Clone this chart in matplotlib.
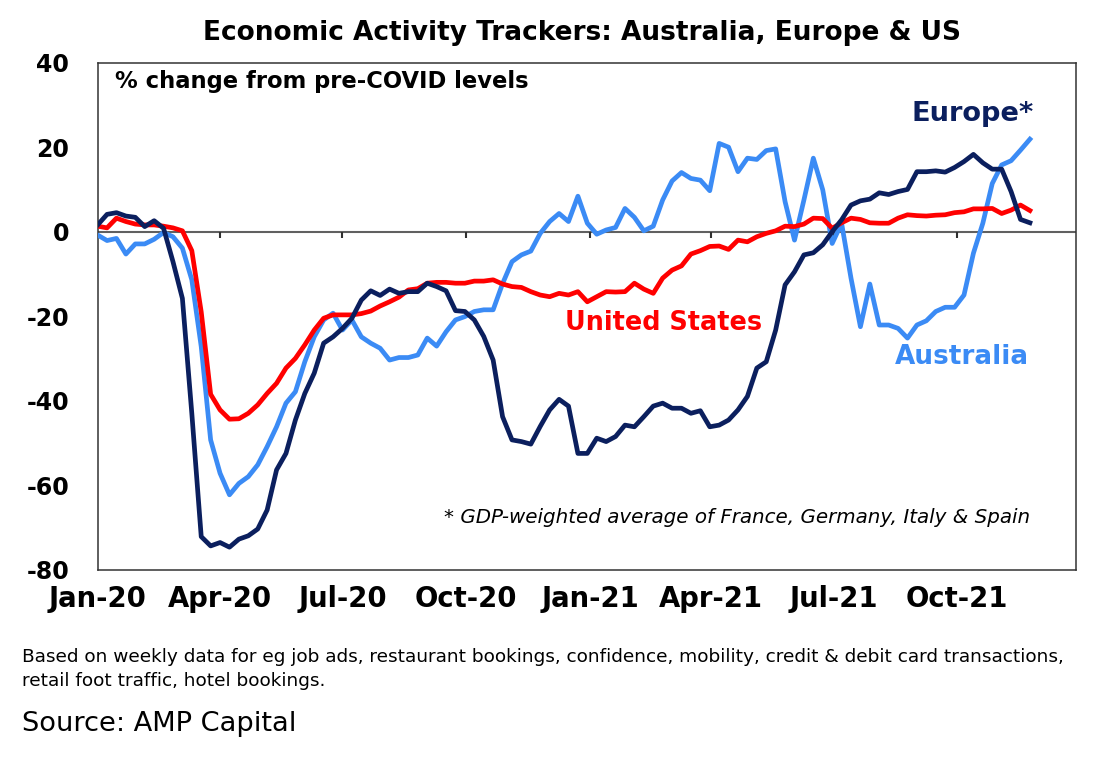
import matplotlib
matplotlib.use("Agg")
import matplotlib.pyplot as plt
import pandas as pd
import numpy as np

plt.rcParams['font.family'] = ['DejaVu Sans']

dates = pd.date_range('2020-01-01', periods=100, freq='7D')

europe = [1.6, 4.1, 4.5, 3.7, 3.4, 1.2, 2.6, 0.8, -7.1, -15.8,
          -43.0, -72.2, -74.4, -73.6, -74.7, -72.8, -72.0, -70.4, -65.9, -56.4,
          -52.5, -44.6, -38.3, -33.5, -26.4, -24.9, -22.9, -20.5, -16.2, -14.0,
          -15.1, -13.6, -14.6, -14.2, -14.2, -12.2, -13.0, -14.0, -18.7, -18.9,
          -20.9, -24.8, -30.4, -43.8, -49.3, -49.7, -50.3, -46.1, -42.2, -39.7,
          -41.3, -52.5, -52.5, -48.9, -49.7, -48.5, -45.8, -46.2, -43.8, -41.3,
          -40.6, -41.8, -41.8, -43.0, -42.4, -46.2, -45.8, -44.6, -42.2, -39.0,
          -32.3, -30.8, -23.3, -12.6, -9.5, -5.5, -5.0, -3.1, 0.0, 2.8,
          6.3, 7.3, 7.7, 9.2, 8.8, 9.5, 10.0, 14.2, 14.2, 14.4,
          14.1, 15.2, 16.6, 18.3, 16.3, 14.8, 14.8, 9.5, 2.9, 2.1]

united_states = [1.3, 0.9, 3.2, 2.4, 1.8, 1.6, 1.6, 1.3, 0.9, 0.2,
                 -4.5, -19.0, -38.5, -42.2, -44.4, -44.3, -43.0, -41.0, -38.3, -35.9,
                 -32.3, -30.0, -26.8, -23.3, -20.5, -19.7, -19.7, -19.7, -19.4, -18.8,
                 -17.6, -16.6, -15.5, -13.8, -13.5, -12.2, -12.0, -12.0, -12.2, -12.2,
                 -11.7, -11.7, -11.4, -12.4, -13.0, -13.2, -14.2, -15.0, -15.4, -14.6,
                 -15.0, -14.2, -16.6, -15.4, -14.2, -14.3, -14.2, -12.2, -13.6, -14.6,
                 -11.0, -9.1, -8.1, -5.3, -4.5, -3.5, -3.4, -4.2, -2.0, -2.4,
                 -1.2, -0.4, 0.2, 1.3, 1.2, 1.8, 3.2, 3.1, 0.8, 2.1,
                 3.2, 2.9, 2.1, 2.0, 2.0, 3.2, 4.0, 3.8, 3.7, 3.9,
                 4.0, 4.5, 4.7, 5.4, 5.4, 5.5, 4.3, 5.1, 6.3, 5.0]

australia = [-0.8, -2.1, -1.6, -5.3, -2.9, -2.9, -1.8, -0.2, -1.2, -3.9,
             -11.4, -27.2, -49.3, -57.2, -62.3, -59.6, -58.0, -55.2, -50.9, -46.2,
             -40.6, -37.9, -30.8, -24.9, -20.9, -19.3, -23.3, -20.9, -24.9, -26.4,
             -27.6, -30.4, -29.8, -29.8, -29.2, -25.2, -27.1, -23.7, -20.9, -20.1,
             -18.9, -18.5, -18.5, -12.3, -7.1, -5.5, -4.6, -0.4, 2.4, 4.3,
             2.4, 8.4, 2.0, -0.6, 0.4, 1.0, 5.5, 3.4, 0.2, 1.3,
             7.5, 12.0, 14.0, 12.6, 12.2, 9.7, 20.9, 20.0, 14.2, 17.4,
             17.1, 19.2, 19.6, 7.1, -2.0, 7.5, 17.4, 9.9, -2.8, 2.0,
             -11.0, -22.5, -12.4, -22.1, -22.1, -22.9, -25.2, -22.1, -21.1, -18.9,
             -17.9, -17.9, -15.0, -5.1, 2.0, 11.4, 15.8, 16.8, 19.3, 21.9]

tick_dates = pd.to_datetime(['2020-01-01', '2020-04-01', '2020-07-01', '2020-10-01',
                             '2021-01-01', '2021-04-01', '2021-07-01', '2021-10-01'])
tick_labels = ['Jan-20', 'Apr-20', 'Jul-20', 'Oct-20', 'Jan-21', 'Apr-21', 'Jul-21', 'Oct-21']
y_ticks = [-80, -60, -40, -20, 0, 20, 40]
y_labels = ['-80', '-60', '-40', '-20', '0', '20', '40']

c_eu = '#0b1f5e'
c_us = '#ff0000'
c_au = '#3b8bf5'

fig = plt.figure(figsize=(11.02, 7.64), dpi=100)
ax = fig.add_axes([0.0886, 0.2545, 0.8875, 0.6634])

ax.axhline(0, color='#606060', lw=1.5, zorder=1)
ax.vlines(tick_dates[1:], -1.5, 0, color='#303030', lw=1.5, zorder=1)

ax.plot(dates, australia, color=c_au, lw=3.4, zorder=3, solid_joinstyle='round')
ax.plot(dates, united_states, color=c_us, lw=3.4, zorder=4, solid_joinstyle='round')
ax.plot(dates, europe, color=c_eu, lw=3.4, zorder=5, solid_joinstyle='round')

ax.set_xlim(pd.Timestamp('2020-01-01'), pd.Timestamp('2021-12-28'))
ax.set_ylim(-80, 40)
ax.set_xticks(tick_dates)
ax.set_xticklabels(tick_labels, fontsize=19.8, fontweight='bold')
ax.set_yticks(y_ticks)
ax.set_yticklabels(y_labels, fontsize=17, fontweight='bold')
ax.tick_params(axis='x', length=0, pad=11)
ax.tick_params(axis='y', length=0, pad=20.5)
for s in ax.spines.values():
    s.set_linewidth(1.1)
    s.set_color('#333333')

ax.text(0.0178, 0.962, '% change from pre-COVID levels', transform=ax.transAxes,
        fontsize=16.3, fontweight='bold', va='center', ha='left', color='black')
ax.text(0.8326, 0.899, 'Europe*', transform=ax.transAxes, fontsize=19.6,
        fontweight='bold', va='center', ha='left', color=c_eu)
ax.text(0.478, 0.4865, 'United States', transform=ax.transAxes, fontsize=18.4,
        fontweight='bold', va='center', ha='left', color=c_us)
ax.text(0.8153, 0.4194, 'Australia', transform=ax.transAxes, fontsize=18.9,
        fontweight='bold', va='center', ha='left', color=c_au)
ax.text(0.953, 0.1018, '* GDP-weighted average of France, Germany, Italy & Spain',
        transform=ax.transAxes, fontsize=14.3, style='italic', va='center', ha='right',
        color='black')

fig.text(0.528, 0.9568, 'Economic Activity Trackers: Australia, Europe & US',
         fontsize=19, fontweight='bold', ha='center', va='center')
fig.text(0.02, 0.140, 'Based on weekly data for eg job ads, restaurant bookings, confidence, '
         'mobility, credit & debit card transactions,', fontsize=13.3, ha='left', va='center')
fig.text(0.02, 0.1086, 'retail foot traffic, hotel bookings.', fontsize=13.3,
         ha='left', va='center')
fig.text(0.02, 0.0524, 'Source: AMP Capital', fontsize=19.6, ha='left', va='center')

fig.savefig('out.png', dpi=100)
